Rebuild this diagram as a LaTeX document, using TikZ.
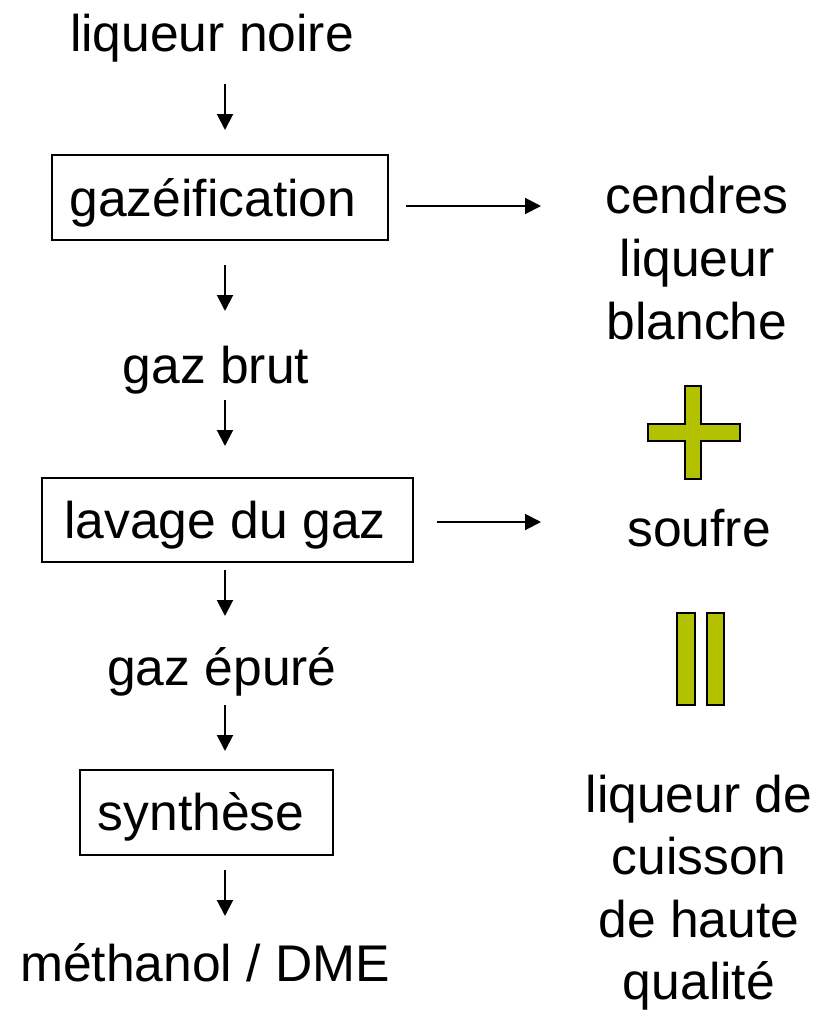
\documentclass[tikz,border=0pt]{standalone}
\usepackage{fontspec}
\setmainfont{Liberation Sans}
\usetikzlibrary{arrows.meta}
\definecolor{signgreen}{RGB}{178,194,0}
\tikzset{
  lbl/.style={anchor=base, inner sep=0pt, font=\fontsize{38.7pt}{47pt}\selectfont},
  procbox/.style={draw=black, line width=1.5pt, inner sep=0pt, fill=none},
  flow/.style={line width=1.5pt, -{Triangle[length=12pt,width=12pt]}},
  sign/.style={fill=signgreen, draw=black, line width=1.5pt, line join=miter}
}
\begin{document}
\begin{tikzpicture}[x=0.75pt,y=-0.75pt]
\useasboundingbox (0,0) rectangle (819,1010);
% left column
\node[lbl] (ln) at (212,51) {liqueur noire};
\node[procbox, minimum width=252pt, minimum height=63.75pt] (gbox) at (220,197.5) {};
\node[lbl] (gaz) at (213,216) {gazéification};
\node[lbl] (brut) at (216,383) {gaz brut};
\node[procbox, minimum width=278.25pt, minimum height=63pt] (lbox) at (227.5,520) {};
\node[lbl] (lav) at (225,538) {lavage du gaz};
\node[lbl] (epure) at (222,685) {gaz épuré};
\node[procbox, minimum width=189.75pt, minimum height=63.75pt] (sbox) at (206.5,812.5) {};
\node[lbl] (syn) at (201,830) {synthèse};
\node[lbl] (meth) at (205,981) {méthanol / DME};
% right column
\node[lbl] (r1) at (697,213) {cendres};
\node[lbl] (r2) at (697,276) {liqueur};
\node[lbl] (r3) at (697,339) {blanche};
\node[lbl] (sou) at (699,546) {soufre};
\node[lbl] (q1) at (699,812) {liqueur de};
\node[lbl] (q2) at (699,874) {cuisson};
\node[lbl] (q3) at (699,937) {de haute};
\node[lbl] (q4) at (699,999) {qualité};
% arrow end points
\coordinate (a1s) at (225,84);  \coordinate (a1e) at (225,130);
\coordinate (a2s) at (225,265); \coordinate (a2e) at (225,311);
\coordinate (a3s) at (225,400); \coordinate (a3e) at (225,446);
\coordinate (a4s) at (225,570); \coordinate (a4e) at (225,616);
\coordinate (a5s) at (225,705); \coordinate (a5e) at (225,751);
\coordinate (a6s) at (225,870); \coordinate (a6e) at (225,916);
\coordinate (h1s) at (406,206); \coordinate (h1e) at (541,206);
\coordinate (h2s) at (437,522); \coordinate (h2e) at (541,522);
\draw[flow] (a1s) -- (a1e);
\draw[flow] (a2s) -- (a2e);
\draw[flow] (a3s) -- (a3e);
\draw[flow] (a4s) -- (a4e);
\draw[flow] (a5s) -- (a5e);
\draw[flow] (a6s) -- (a6e);
\draw[flow] (h1s) -- (h1e);
\draw[flow] (h2s) -- (h2e);
% plus sign
\draw[sign] (685,386) -- (701,386) -- (701,424) -- (740,424) -- (740,441) -- (701,441) -- (701,479) -- (685,479) -- (685,441) -- (648,441) -- (648,424) -- (685,424) -- cycle;
% equals sign (vertical)
\draw[sign] (677,613) rectangle (695,705);
\draw[sign] (707,613) rectangle (724,705);
\end{tikzpicture}
\end{document}
